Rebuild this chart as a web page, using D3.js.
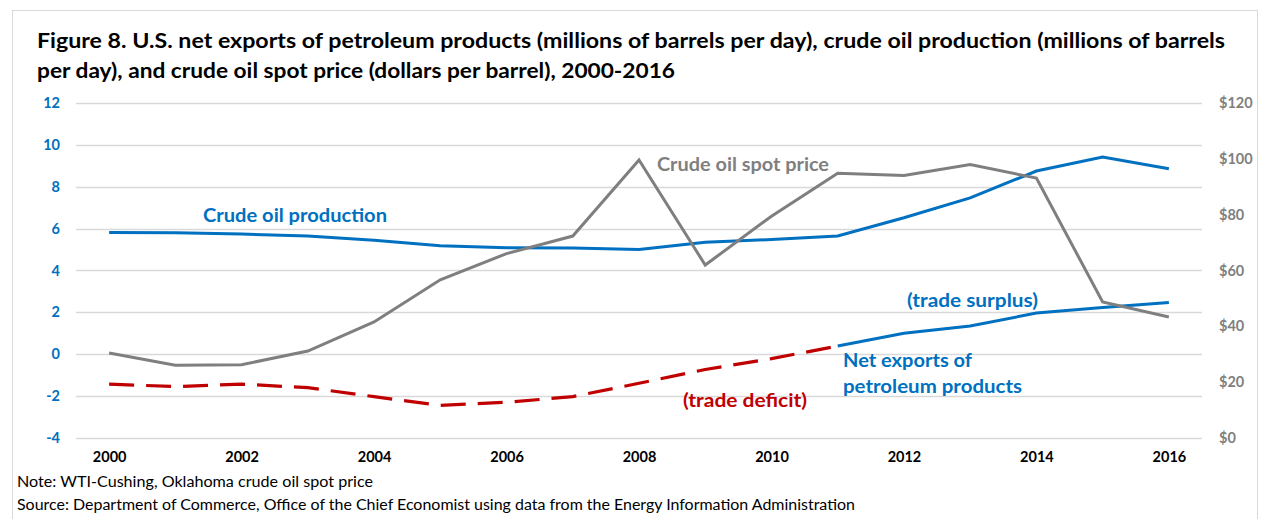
<!DOCTYPE html>
<html>
<head>
<meta charset="utf-8">
<script src="https://cdn.jsdelivr.net/npm/d3@7"></script>
<style>
  body { margin: 0; background: #fff; }
  text { font-family: Lato, "Open Sans", sans-serif; }
</style>
</head>
<body>
<div id="chart"></div>
<script>
var years = [2000, 2001, 2002, 2003, 2004, 2005, 2006, 2007, 2008, 2009, 2010, 2011, 2012, 2013, 2014, 2015, 2016];
// millions of barrels per day
var crudeProduction = [5.82, 5.80, 5.74, 5.65, 5.44, 5.18, 5.09, 5.08, 5.00, 5.35, 5.48, 5.65, 6.52, 7.47, 8.76, 9.43, 8.87];
var netExports = [-1.44, -1.56, -1.44, -1.61, -2.04, -2.46, -2.31, -2.04, -1.40, -0.74, -0.22, 0.38, 0.99, 1.34, 1.96, 2.23, 2.47];
// dollars per barrel
var spotPrice = [30.38, 25.98, 26.18, 31.08, 41.51, 56.64, 66.05, 72.34, 99.67, 61.95, 79.48, 94.88, 94.05, 97.98, 93.17, 48.66, 43.29];
var leftTicks = [-4, -2, 0, 2, 4, 6, 8, 10, 12];
var rightTicks = [0, 20, 40, 60, 80, 100, 120];
var yearTicks = [2000, 2002, 2004, 2006, 2008, 2010, 2012, 2014, 2016];

drawChart();

function drawChart() {
  var W = 1261, H = 519;
  var plotL = 76, plotR = 1202, plotT = 103.3, plotB = 437.6;

  var svg = d3.select('#chart').append('svg')
    .attr('width', W)
    .attr('height', H);

  svg.append('rect')
    .attr('x', 12.5).attr('y', 10.5)
    .attr('width', 1245).attr('height', 530)
    .attr('fill', 'none')
    .attr('stroke', '#d9d9d9');

  var x = d3.scalePoint().domain(years).range([plotL, plotR]).padding(0.5);
  var yL = d3.scaleLinear().domain([-4, 12]).range([plotB, plotT]);
  var yR = d3.scaleLinear().domain([0, 120]).range([plotB, plotT]);

  // title
  var title1 = 'Figure 8. U.S. net exports of petroleum products (millions of barrels per day), crude oil production  (millions of barrels';
  var title2 = 'per day), and crude oil spot price (dollars per barrel), 2000-2016';
  svg.append('text').attr('x', 37).attr('y', 48).attr('font-size', 20).attr('font-weight', 'bold')
    .attr('textLength', 1188).attr('lengthAdjust', 'spacingAndGlyphs').text(title1);
  svg.append('text').attr('x', 37).attr('y', 78).attr('font-size', 20).attr('font-weight', 'bold')
    .attr('textLength', 638).attr('lengthAdjust', 'spacingAndGlyphs').text(title2);

  // gridlines
  svg.append('g').selectAll('line')
    .data(leftTicks).enter().append('line')
    .attr('x1', plotL).attr('x2', plotR)
    .attr('y1', function(d) { return Math.round(yL(d)) + 0.5; })
    .attr('y2', function(d) { return Math.round(yL(d)) + 0.5; })
    .attr('stroke', '#d9d9d9').attr('stroke-width', 1.3);

  // left axis
  var axL = svg.append('g').attr('transform', 'translate(60,0)')
    .call(d3.axisLeft(yL).tickValues(leftTicks).tickSize(0).tickPadding(0)
      .tickFormat(function(d) { return String(d); }));
  axL.select('.domain').remove();
  axL.selectAll('text').attr('fill', '#0070c0').attr('font-size', 14.5).attr('font-weight', 'bold')
    .attr('font-family', 'Lato, sans-serif');

  // right axis
  var axR = svg.append('g').attr('transform', 'translate(1219,0)')
    .call(d3.axisRight(yR).tickValues(rightTicks).tickSize(0).tickPadding(0)
      .tickFormat(function(d) { return '$' + d; }));
  axR.select('.domain').remove();
  axR.selectAll('text').attr('fill', '#7f7f7f').attr('font-size', 14.5).attr('font-weight', 'bold')
    .attr('font-family', 'Lato, sans-serif');

  // x axis
  var axX = svg.append('g').attr('transform', 'translate(0,452)')
    .call(d3.axisBottom(x).tickValues(yearTicks).tickSize(0).tickPadding(0));
  axX.select('.domain').remove();
  axX.selectAll('text').attr('fill', '#000').attr('font-size', 14.5).attr('font-weight', 'bold')
    .attr('font-family', 'Lato, sans-serif');

  // lines
  var idx = d3.range(years.length);
  var lineL = function(vals) {
    return d3.line().x(function(i) { return x(years[i]); }).y(function(i) { return yL(vals[i]); });
  };

  svg.append('path').datum(idx)
    .attr('d', lineL(crudeProduction))
    .attr('fill', 'none').attr('stroke', '#0070c0').attr('stroke-width', 3);

  svg.append('path').datum(idx.filter(function(i) { return years[i] <= 2011; }))
    .attr('d', lineL(netExports))
    .attr('fill', 'none').attr('stroke', '#c00000').attr('stroke-width', 3.2)
    .attr('stroke-dasharray', '25,12');

  svg.append('path').datum(idx.filter(function(i) { return years[i] >= 2011; }))
    .attr('d', lineL(netExports))
    .attr('fill', 'none').attr('stroke', '#0070c0').attr('stroke-width', 3);

  svg.append('path').datum(idx)
    .attr('d', d3.line().x(function(i) { return x(years[i]); }).y(function(i) { return yR(spotPrice[i]); }))
    .attr('fill', 'none').attr('stroke', '#7f7f7f').attr('stroke-width', 3);

  // annotations
  function label(t, px, py, w, color) {
    svg.append('text').attr('x', px).attr('y', py).attr('font-size', 18).attr('font-weight', 'bold')
      .attr('fill', color).attr('textLength', w).attr('lengthAdjust', 'spacingAndGlyphs').text(t);
  }
  label('Crude oil production', 203, 222, 184, '#0070c0');
  label('Crude oil spot price', 657, 171, 172, '#7f7f7f');
  label('(trade surplus)', 907, 307, 131, '#0070c0');
  label('Net exports of', 843, 367, 129, '#0070c0');
  label('petroleum products', 843, 393, 179, '#0070c0');
  label('(trade deficit)', 683, 407, 124, '#c00000');

  // notes
  svg.append('text').attr('x', 17).attr('y', 487).attr('font-size', 14.5)
    .attr('textLength', 356).attr('lengthAdjust', 'spacingAndGlyphs')
    .text('Note: WTI-Cushing, Oklahoma crude oil spot price');
  svg.append('text').attr('x', 17).attr('y', 510).attr('font-size', 14.5)
    .attr('textLength', 838).attr('lengthAdjust', 'spacingAndGlyphs')
    .text('Source: Department of Commerce, Office of the Chief Economist using data from the Energy Information Administration');
}
</script>
</body>
</html>
